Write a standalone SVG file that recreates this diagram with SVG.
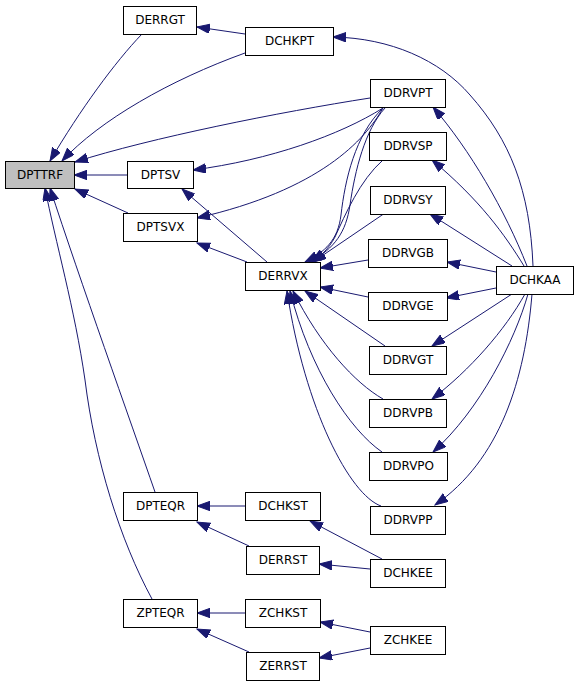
<svg xmlns="http://www.w3.org/2000/svg" width="579" height="687" viewBox="0 0 579 687">
<defs>
<marker id="ah" markerUnits="userSpaceOnUse" markerWidth="14" markerHeight="10" refX="13" refY="4.7" orient="auto">
<path d="M0,0 L13,4.7 L0,9.4 z" fill="#191970" stroke="#191970" stroke-width="1"/>
</marker>
</defs>
<style>
.n rect{fill:#ffffff;stroke:#000000;stroke-width:1}
.n text{font-family:"DejaVu Sans","Liberation Sans",sans-serif;font-size:12px;fill:#000000;text-anchor:middle}
#DPTTRF rect{fill:#bfbfbf}
#edges path{fill:none;stroke:#191970;stroke-width:1;marker-end:url(#ah)}
</style>
<rect width="579" height="687" fill="#ffffff"/>
<g id="edges">
<path d="M245,34 L197,27"/>
<path d="M142,34 C115,62 80,110 50,161"/>
<path d="M245,53 C170,80 100,120 62,161"/>
<path d="M370,98 C280,112 150,138 75,162"/>
<path d="M127,175 L74,175"/>
<path d="M128,213 L75,189"/>
<path d="M155,492 C130,420 80,280 50,188"/>
<path d="M152,599 C120,540 95,460 85,380 C75,310 55,240 45,188"/>
<path d="M383,108 C340,135 270,160 193,170"/>
<path d="M383,108 C365,140 320,190 197,218"/>
<path d="M383,108 C355,135 345,180 341,215 C338,240 325,252 305,262"/>
<path d="M385,108 C365,130 355,170 350,205 C346,232 335,248 310,262"/>
<path d="M383,160 C360,180 345,215 335,237 C328,250 320,256 313,262"/>
<path d="M385,213 L313,262"/>
<path d="M368,260 L320,268"/>
<path d="M368,297 L320,287"/>
<path d="M385,346 L305,291"/>
<path d="M383,399 C355,383 320,345 293,291"/>
<path d="M382,452 C350,430 310,370 290,291"/>
<path d="M381,506 C350,495 305,410 287,291"/>
<path d="M267,262 L182,189"/>
<path d="M247,262 L197,243"/>
<path d="M533,266 C530,190 510,140 470,95 C440,60 390,38 333,37"/>
<path d="M527,266 C505,210 470,150 433,107"/>
<path d="M524,266 C505,235 480,200 432,160"/>
<path d="M512,266 L430,214"/>
<path d="M496,272 L447,262"/>
<path d="M496,288 L446,298"/>
<path d="M512,294 L432,346"/>
<path d="M525,294 C505,330 470,370 432,399"/>
<path d="M528,294 C515,340 480,410 433,452"/>
<path d="M532,294 C525,380 500,460 435,505"/>
<path d="M382,559 L310,521"/>
<path d="M370,569 L319,564"/>
<path d="M245,506 L197,506"/>
<path d="M249,546 L197,522"/>
<path d="M370,632 L320,622"/>
<path d="M370,648 L319,658"/>
<path d="M245,613 L197,613"/>
<path d="M249,652 L197,629"/>
</g>
<g id="DPTTRF" class="n"><rect x="5.5" y="161.5" width="69" height="27"/><text x="40" y="178.5">DPTTRF</text></g>
<g id="DERRGT" class="n"><rect x="123.5" y="6.5" width="73" height="28"/><text x="160" y="24">DERRGT</text></g>
<g id="DCHKPT" class="n"><rect x="245.5" y="27.5" width="88" height="28"/><text x="289.5" y="45">DCHKPT</text></g>
<g id="DPTSV" class="n"><rect x="127.5" y="161.5" width="66" height="27"/><text x="160.5" y="178.5">DPTSV</text></g>
<g id="DPTSVX" class="n"><rect x="123.5" y="213.5" width="74" height="28"/><text x="160.5" y="231">DPTSVX</text></g>
<g id="DDRVPT" class="n"><rect x="370.5" y="79.5" width="75" height="28"/><text x="408" y="97">DDRVPT</text></g>
<g id="DDRVSP" class="n"><rect x="369.5" y="132.5" width="77" height="28"/><text x="408" y="150">DDRVSP</text></g>
<g id="DDRVSY" class="n"><rect x="370.5" y="186.5" width="75" height="28"/><text x="408" y="204">DDRVSY</text></g>
<g id="DDRVGB" class="n"><rect x="368.5" y="239.5" width="79" height="28"/><text x="408" y="257">DDRVGB</text></g>
<g id="DCHKAA" class="n"><rect x="496.5" y="266.5" width="77" height="28"/><text x="535" y="284">DCHKAA</text></g>
<g id="DERRVX" class="n"><rect x="245.5" y="262.5" width="75" height="28"/><text x="283" y="280">DERRVX</text></g>
<g id="DDRVGE" class="n"><rect x="368.5" y="292.5" width="79" height="28"/><text x="408" y="310">DDRVGE</text></g>
<g id="DDRVGT" class="n"><rect x="369.5" y="346.5" width="77" height="28"/><text x="408" y="364">DDRVGT</text></g>
<g id="DDRVPB" class="n"><rect x="369.5" y="399.5" width="77" height="28"/><text x="408" y="417">DDRVPB</text></g>
<g id="DDRVPO" class="n"><rect x="369.5" y="452.5" width="78" height="28"/><text x="408.5" y="470">DDRVPO</text></g>
<g id="DDRVPP" class="n"><rect x="370.5" y="506.5" width="75" height="28"/><text x="408" y="524">DDRVPP</text></g>
<g id="DPTEQR" class="n"><rect x="123.5" y="492.5" width="74" height="28"/><text x="160.5" y="510">DPTEQR</text></g>
<g id="DCHKST" class="n"><rect x="245.5" y="492.5" width="75" height="28"/><text x="283" y="510">DCHKST</text></g>
<g id="DERRST" class="n"><rect x="246.5" y="546.5" width="73" height="28"/><text x="283" y="564">DERRST</text></g>
<g id="DCHKEE" class="n"><rect x="370.5" y="559.5" width="75" height="28"/><text x="408" y="577">DCHKEE</text></g>
<g id="ZPTEQR" class="n"><rect x="123.5" y="599.5" width="74" height="28"/><text x="160.5" y="617">ZPTEQR</text></g>
<g id="ZCHKST" class="n"><rect x="245.5" y="599.5" width="75" height="28"/><text x="283" y="617">ZCHKST</text></g>
<g id="ZCHKEE" class="n"><rect x="370.5" y="626.5" width="75" height="28"/><text x="408" y="644">ZCHKEE</text></g>
<g id="ZERRST" class="n"><rect x="246.5" y="652.5" width="73" height="28"/><text x="283" y="670">ZERRST</text></g>
</svg>
